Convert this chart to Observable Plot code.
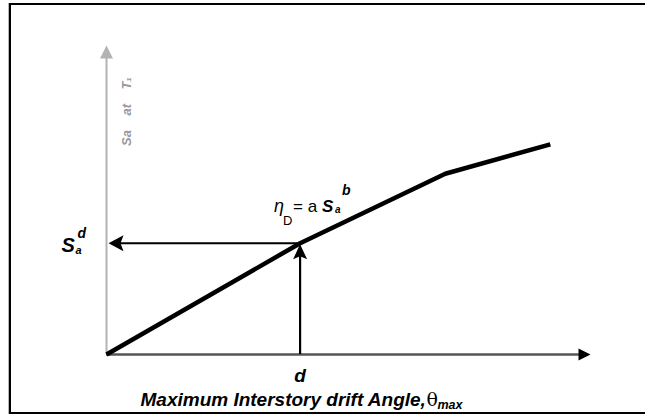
<!DOCTYPE html>
<html>
<head>
<meta charset="utf-8">
<script src="https://cdn.jsdelivr.net/npm/d3@7"></script>
<script src="https://cdn.jsdelivr.net/npm/@observablehq/plot@0.6"></script>
<style>
  html, body { margin: 0; padding: 0; background: #fff; width: 645px; height: 415px; overflow: hidden; }
  #chart { position: absolute; left: 0; top: 0; }
  #frame { position: absolute; left: 9px; top: 3px; width: 636px; height: 411px; box-sizing: border-box;
           border: 2px solid #000; border-right: none; box-shadow: -1px 0 0 #b5b5b5; pointer-events: none; z-index: 2; }
</style>
</head>
<body>
<div id="chart"></div>
<div id="frame"></div>
<script>
// Idealised capacity curve: spectral acceleration vs. peak interstory drift
const driftPts = [0, 4, 7, 9.17];
const saPts = [0, 3.6, 5.85, 6.8];

// Design point (d, Sa^d) picked off the curve
const dValue = 4;
const saDValue = 3.6;

// Axis extents (arrow tips)
const xMax = 10;
const yMax = 10;

// Labels
const xTitle = "Maximum Interstory drift Angle,";
const yTitle = "Sa\u00a0\u00a0\u00a0\u00a0at\u00a0\u00a0\u00a0\u00a0T\u2081";

const W = 645, H = 415;
const mL = 106, mR = 55, mT = 45, mB = 61;
const pxX = (W - mL - mR) / xMax; // pixels per drift unit
const pxY = (H - mT - mB) / yMax; // pixels per Sa unit

const curve = driftPts.map((x, i) => ({x, y: saPts[i]}));

// Filled arrowhead whose tip sits on the anchor point, pointing along +x
function head(len, half, notch = 0) {
  return {
    draw(ctx) {
      ctx.moveTo(0, 0);
      ctx.lineTo(-len, -half);
      ctx.lineTo(-len + notch, 0);
      ctx.lineTo(-len, half);
      ctx.closePath();
    }
  };
}

const FONT = "'Liberation Sans', Arial, Helvetica, sans-serif";

// Rich text: one text mark per run, offset from a shared anchor
function rich(x, y, runs) {
  return runs.map(r => Plot.text([{x, y}], {
    x: "x", y: "y", text: () => r.t,
    dx: r.dx, dy: r.dy,
    textAnchor: r.anchor ?? "start", lineAnchor: "bottom",
    fontSize: r.size, fontWeight: r.bold ? "bold" : "normal",
    fontStyle: r.italic ? "italic" : "normal",
    fontFamily: r.family ?? FONT,
    fill: r.fill ?? "#000"
  }));
}

const plot = Plot.plot({
  width: W, height: H,
  marginLeft: mL, marginRight: mR, marginTop: mT, marginBottom: mB,
  x: {domain: [0, xMax], axis: null},
  y: {domain: [0, yMax], axis: null},
  style: {background: "transparent", fontFamily: FONT},
  marks: [
    // vertical (Sa) axis with arrow
    Plot.ruleX([0], {y1: 0, y2: yMax - 11 / pxY, stroke: "#b3b3b3", strokeWidth: 2}),
    Plot.dot([{x: 0, y: yMax}], {x: "x", y: "y", symbol: head(13, 6.5), rotate: -90, fill: "#b3b3b3", stroke: "none"}),
    Plot.text([{x: 0, y: yMax}], {
      x: "x", y: "y", text: () => yTitle, rotate: -90, dx: 20, dy: 66,
      fontSize: 13, fontWeight: "bold", fontStyle: "italic", fill: "#9a9a9a", fontFamily: FONT
    }),

    // horizontal (drift) axis with arrow
    Plot.ruleY([0], {x1: 0, x2: xMax - 10 / pxX, stroke: "#555", strokeWidth: 2.5}),
    Plot.dot([{x: xMax, y: 0}], {x: "x", y: "y", symbol: head(12, 6), fill: "#000", stroke: "none"}),

    // capacity curve
    Plot.line(curve, {x: "x", y: "y", stroke: "#000", strokeWidth: 4.5, strokeLinecap: "butt", strokeLinejoin: "round"}),

    // projection arrows from the design point
    Plot.ruleY([saDValue], {x1: 13 / pxX, x2: dValue, stroke: "#000", strokeWidth: 2.2}),
    Plot.dot([{x: 0, y: saDValue}], {x: "x", y: "y", dx: 2, symbol: head(15, 8, 3), rotate: 180, fill: "#000", stroke: "none"}),
    Plot.ruleX([dValue], {y1: 0, y2: saDValue - 13 / pxY, stroke: "#000", strokeWidth: 2.2}),
    Plot.dot([{x: dValue, y: saDValue}], {x: "x", y: "y", dy: 1, symbol: head(15, 7, 3), rotate: -90, fill: "#000", stroke: "none"}),

    // Sa^d label
    ...rich(0, saDValue, [
      {t: "S", dx: -45, dy: 9, size: 20, bold: true, italic: true},
      {t: "a", dx: -31, dy: 11, size: 11, bold: true, italic: true},
      {t: "d", dx: -29, dy: -5, size: 14, bold: true, italic: true}
    ]),

    // d label
    ...rich(dValue, 0, [
      {t: "d", dx: 0, dy: 27, size: 19, bold: true, italic: true, anchor: "middle"}
    ]),

    // axis title
    ...rich(0, 0, [
      {t: xTitle, dx: 34, dy: 51, size: 19, bold: true, italic: true},
      {t: "\u03b8", dx: 320, dy: 51, size: 19, family: "'DejaVu Serif', serif"},
      {t: "max", dx: 331, dy: 54, size: 12.5, bold: true, italic: true}
    ]),

    // fitted relation  eta_D = a Sa^b
    ...rich(dValue, saDValue, [
      {t: "\u03b7", dx: -26, dy: -31, size: 18, italic: true},
      {t: "D", dx: -17, dy: -18, size: 13},
      {t: "= a", dx: -7, dy: -31, size: 17},
      {t: "S", dx: 22, dy: -31, size: 17, bold: true, italic: true},
      {t: "a", dx: 35, dy: -30, size: 10, bold: true, italic: true},
      {t: "b", dx: 42, dy: -48, size: 14, bold: true, italic: true}
    ])
  ]
});

document.getElementById("chart").appendChild(plot);
</script>
</body>
</html>
